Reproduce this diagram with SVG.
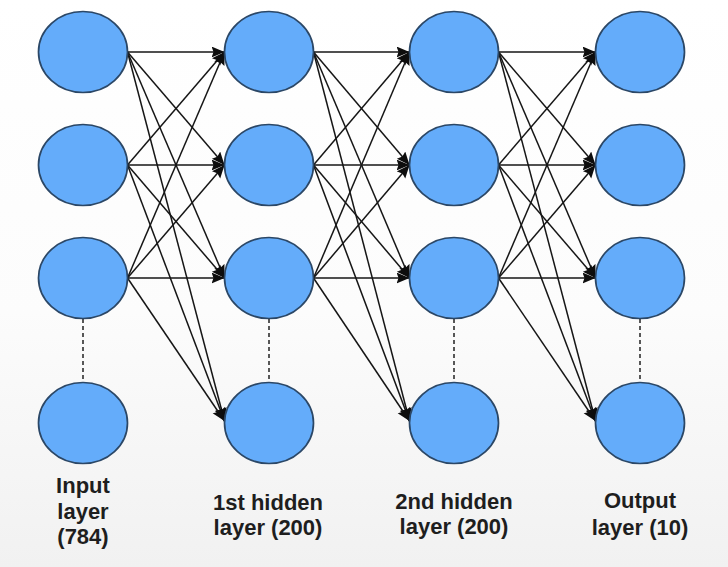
<svg xmlns="http://www.w3.org/2000/svg" width="728" height="567" viewBox="0 0 728 567">
  <defs>
    <linearGradient id="bg" x1="0" y1="0" x2="0" y2="1">
      <stop offset="0" stop-color="#ffffff"/>
      <stop offset="0.55" stop-color="#fcfcfc"/>
      <stop offset="1" stop-color="#f1f1f1"/>
    </linearGradient>
    <marker id="arr" markerUnits="userSpaceOnUse" markerWidth="16" markerHeight="14" refX="13" refY="5.5" orient="auto">
      <path d="M0,0 L13,5.5 L0,11 L2,5.5 Z" fill="#0d0d0d"/>
    </marker>
    <style>
      .node { fill: #64acfa; stroke: #2b4766; stroke-width: 1.7; }
      .edge { stroke: #161616; stroke-width: 1.5; fill: none; marker-end: url(#arr); }
      .dash { stroke: #222; stroke-width: 1.5; stroke-dasharray: 4 3; fill: none; }
      .lbl { font-family: "Liberation Sans", Arial, sans-serif; font-size: 22px; font-weight: bold; fill: #1e1e1e; text-anchor: middle; }
    </style>
  </defs>
  <rect x="0" y="0" width="728" height="567" fill="url(#bg)"/>

  <g id="connectors">
    <!-- input -> hidden1 -->
    <line class="edge" x1="127.5" y1="52" x2="224.5" y2="52"/>
    <line class="edge" x1="127.5" y1="52" x2="224.5" y2="165"/>
    <line class="edge" x1="127.5" y1="52" x2="224.5" y2="278"/>
    <line class="edge" x1="127.5" y1="52" x2="224.5" y2="421"/>
    <line class="edge" x1="127.5" y1="165" x2="224.5" y2="52"/>
    <line class="edge" x1="127.5" y1="165" x2="224.5" y2="165"/>
    <line class="edge" x1="127.5" y1="165" x2="224.5" y2="278"/>
    <line class="edge" x1="127.5" y1="165" x2="224.5" y2="421"/>
    <line class="edge" x1="127.5" y1="278" x2="224.5" y2="52"/>
    <line class="edge" x1="127.5" y1="278" x2="224.5" y2="165"/>
    <line class="edge" x1="127.5" y1="278" x2="224.5" y2="278"/>
    <line class="edge" x1="127.5" y1="278" x2="224.5" y2="421"/>
    <!-- hidden1 -> hidden2 -->
    <line class="edge" x1="313.5" y1="52" x2="409.5" y2="52"/>
    <line class="edge" x1="313.5" y1="52" x2="409.5" y2="165"/>
    <line class="edge" x1="313.5" y1="52" x2="409.5" y2="278"/>
    <line class="edge" x1="313.5" y1="52" x2="409.5" y2="421"/>
    <line class="edge" x1="313.5" y1="165" x2="409.5" y2="52"/>
    <line class="edge" x1="313.5" y1="165" x2="409.5" y2="165"/>
    <line class="edge" x1="313.5" y1="165" x2="409.5" y2="278"/>
    <line class="edge" x1="313.5" y1="165" x2="409.5" y2="421"/>
    <line class="edge" x1="313.5" y1="278" x2="409.5" y2="52"/>
    <line class="edge" x1="313.5" y1="278" x2="409.5" y2="165"/>
    <line class="edge" x1="313.5" y1="278" x2="409.5" y2="278"/>
    <line class="edge" x1="313.5" y1="278" x2="409.5" y2="421"/>
    <!-- hidden2 -> output -->
    <line class="edge" x1="498.5" y1="52" x2="595.5" y2="52"/>
    <line class="edge" x1="498.5" y1="52" x2="595.5" y2="165"/>
    <line class="edge" x1="498.5" y1="52" x2="595.5" y2="278"/>
    <line class="edge" x1="498.5" y1="52" x2="595.5" y2="421"/>
    <line class="edge" x1="498.5" y1="165" x2="595.5" y2="52"/>
    <line class="edge" x1="498.5" y1="165" x2="595.5" y2="165"/>
    <line class="edge" x1="498.5" y1="165" x2="595.5" y2="278"/>
    <line class="edge" x1="498.5" y1="165" x2="595.5" y2="421"/>
    <line class="edge" x1="498.5" y1="278" x2="595.5" y2="52"/>
    <line class="edge" x1="498.5" y1="278" x2="595.5" y2="165"/>
    <line class="edge" x1="498.5" y1="278" x2="595.5" y2="278"/>
    <line class="edge" x1="498.5" y1="278" x2="595.5" y2="421"/>
    <!-- dotted continuation -->
    <line class="dash" x1="83" y1="319" x2="83" y2="382"/>
    <line class="dash" x1="269" y1="319" x2="269" y2="382"/>
    <line class="dash" x1="454" y1="319" x2="454" y2="382"/>
    <line class="dash" x1="640" y1="319" x2="640" y2="382"/>
  </g>

  <g id="input-layer">
    <ellipse class="node" cx="83" cy="52" rx="44.5" ry="40.5"/>
    <ellipse class="node" cx="83" cy="165" rx="44.5" ry="40.5"/>
    <ellipse class="node" cx="83" cy="278" rx="44.5" ry="40.5"/>
    <ellipse class="node" cx="83" cy="423" rx="44.5" ry="40.5"/>
    <text class="lbl" x="83" y="493">Input</text>
    <text class="lbl" x="83" y="519">layer</text>
    <text class="lbl" x="83" y="544">(784)</text>
  </g>
  <g id="hidden-layer-1">
    <ellipse class="node" cx="269" cy="52" rx="44.5" ry="40.5"/>
    <ellipse class="node" cx="269" cy="165" rx="44.5" ry="40.5"/>
    <ellipse class="node" cx="269" cy="278" rx="44.5" ry="40.5"/>
    <ellipse class="node" cx="269" cy="423" rx="44.5" ry="40.5"/>
    <text class="lbl" x="268" y="510">1st hidden</text>
    <text class="lbl" x="268" y="535">layer (200)</text>
  </g>
  <g id="hidden-layer-2">
    <ellipse class="node" cx="454" cy="52" rx="44.5" ry="40.5"/>
    <ellipse class="node" cx="454" cy="165" rx="44.5" ry="40.5"/>
    <ellipse class="node" cx="454" cy="278" rx="44.5" ry="40.5"/>
    <ellipse class="node" cx="454" cy="423" rx="44.5" ry="40.5"/>
    <text class="lbl" x="454" y="509">2nd hidden</text>
    <text class="lbl" x="454" y="534">layer (200)</text>
  </g>
  <g id="output-layer">
    <ellipse class="node" cx="640" cy="52" rx="44.5" ry="40.5"/>
    <ellipse class="node" cx="640" cy="165" rx="44.5" ry="40.5"/>
    <ellipse class="node" cx="640" cy="278" rx="44.5" ry="40.5"/>
    <ellipse class="node" cx="640" cy="423" rx="44.5" ry="40.5"/>
    <text class="lbl" x="640" y="508">Output</text>
    <text class="lbl" x="640" y="535">layer (10)</text>
  </g>
</svg>
